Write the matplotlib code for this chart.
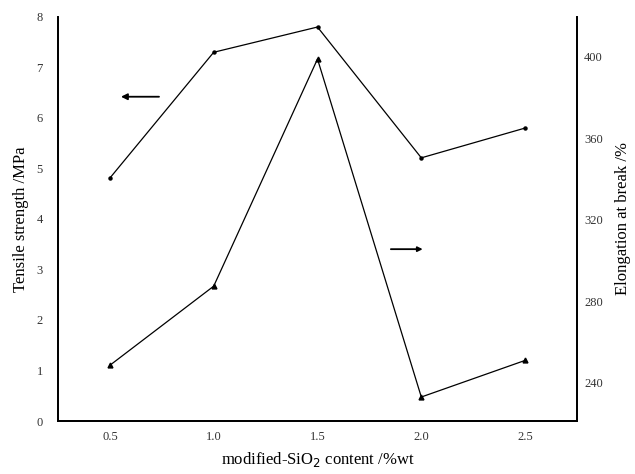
import matplotlib.pyplot as plt

# data
content = [0.5, 1.0, 1.5, 2.0, 2.5]
tensile = [4.81, 7.30, 7.80, 5.21, 5.80]
elongation = [248.4, 287.3, 399.0, 232.8, 250.8]

x_ticks = [0.5, 1.0, 1.5, 2.0, 2.5]
x_ticklabels = ["0.5", "1.0", "1.5", "2.0", "2.5"]
left_ticks = [0, 1, 2, 3, 4, 5, 6, 7, 8]
right_ticks = [240, 280, 320, 360, 400]

plt.rcParams['font.family'] = ['Liberation Serif', 'DejaVu Serif']

fig = plt.figure(figsize=(6.35, 4.74), dpi=100)
ax = fig.add_axes([0.0913, 0.1118, 0.8174, 0.8525])
ax2 = ax.twinx()

ax.plot(content, tensile, color="black", lw=0.9, marker="o", ms=2.2)
ax2.plot(content, elongation, color="black", lw=0.9, marker="^", ms=3.5)

ax.set_xlim(0.25, 2.75)
ax.set_ylim(0, 8)
ax2.set_ylim(221, 419.7)

ax.set_xticks(x_ticks)
ax.set_xticklabels(x_ticklabels)
ax.set_yticks(left_ticks)
ax2.set_yticks(right_ticks)

ax.tick_params(axis="both", length=0, labelsize=9, colors="#333333")
ax.tick_params(axis="y", pad=11)
ax.tick_params(axis="x", pad=7)
ax2.tick_params(axis="y", length=0, labelsize=9, pad=5, colors="#333333")

for a in (ax, ax2):
    a.spines["top"].set_visible(False)
    for s in ("left", "right", "bottom"):
        a.spines[s].set_linewidth(1.3)

ax.set_ylabel("Tensile strength /MPa", fontsize=12, labelpad=5)
ax2.set_ylabel("Elongation at break /%", fontsize=12, labelpad=9)
ax.set_xlabel("modified-SiO$_2$ content /%wt", fontsize=12, labelpad=5)

# arrows pointing to the axis each curve belongs to
ax.annotate("", xy=(0.54, 6.42), xytext=(0.75, 6.42),
            arrowprops=dict(arrowstyle="-|>", color="black", lw=1.3,
                            mutation_scale=9))
ax2.annotate("", xy=(2.02, 305.5), xytext=(1.84, 305.5),
             arrowprops=dict(arrowstyle="-|>", color="black", lw=1.3,
                             mutation_scale=7))

plt.savefig("out.png", dpi=100)
